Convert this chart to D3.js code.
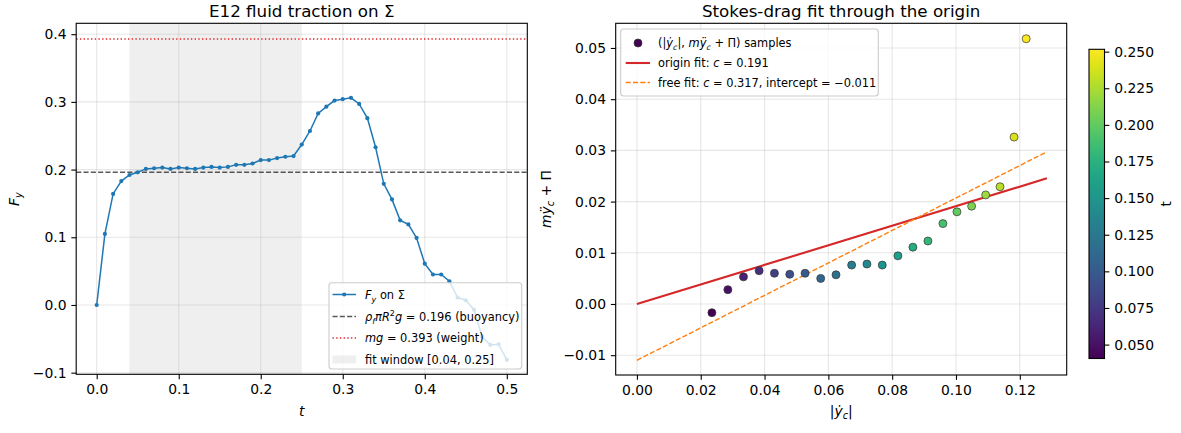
<!DOCTYPE html>
<html lang="en">
<head>
<meta charset="UTF-8">
<title>E12 fluid traction</title>
<script src="https://d3js.org/d3.v7.min.js"></script>
<style>
  body { margin: 0; background: #fff; }
  svg text { font-family: "DejaVu Sans", sans-serif; fill: #000; }
  .tick line { stroke: #000; stroke-width: 1.1; }
  .tick text { font-size: 13.9px; }
</style>
</head>
<body>
<svg id="main" width="1181" height="433"></svg>
<script>
// ---- left panel data: F_y on Sigma over time
const tSteps = [0.00, 0.01, 0.02, 0.03, 0.04, 0.05, 0.06, 0.07, 0.08, 0.09,
  0.10, 0.11, 0.12, 0.13, 0.14, 0.15, 0.16, 0.17, 0.18, 0.19,
  0.20, 0.21, 0.22, 0.23, 0.24, 0.25, 0.26, 0.27, 0.28, 0.29,
  0.30, 0.31, 0.32, 0.33, 0.34, 0.35, 0.36, 0.37, 0.38, 0.39,
  0.40, 0.41, 0.42, 0.43, 0.44, 0.45, 0.46, 0.47, 0.48, 0.49, 0.50];
const fyValues = [0.000, 0.105, 0.164, 0.183, 0.192, 0.196, 0.201, 0.202, 0.203, 0.201,
  0.203, 0.202, 0.201, 0.203, 0.204, 0.203, 0.204, 0.207, 0.207, 0.209,
  0.214, 0.214, 0.217, 0.219, 0.220, 0.237, 0.257, 0.283, 0.293, 0.302,
  0.304, 0.306, 0.297, 0.276, 0.233, 0.179, 0.156, 0.125, 0.119, 0.099,
  0.061, 0.045, 0.045, 0.035, 0.011, 0.007, -0.007, -0.047, -0.059, -0.058, -0.081];
const buoyancy = 0.196;
const weight = 0.393;
const fitWindow = [0.04, 0.25];

// ---- right panel data: samples inside the fit window
const sampleT = [0.04, 0.05, 0.06, 0.07, 0.08, 0.09, 0.10, 0.11, 0.12, 0.13, 0.14,
  0.15, 0.16, 0.17, 0.18, 0.19, 0.20, 0.21, 0.22, 0.23, 0.24, 0.25];
const speedAbs = [0.0235, 0.0285, 0.0334, 0.0383, 0.0431, 0.0479, 0.0527, 0.0576, 0.0624, 0.0673, 0.0721,
  0.0769, 0.0818, 0.0865, 0.0912, 0.0959, 0.1003, 0.1049, 0.1093, 0.1138, 0.1182, 0.1220];
const dragForce = [-0.0017, 0.0028, 0.0053, 0.0065, 0.0060, 0.0058, 0.0060, 0.0050, 0.0057, 0.0076, 0.0078,
  0.0076, 0.0094, 0.0111, 0.0123, 0.0157, 0.0180, 0.0191, 0.0213, 0.0229, 0.0326, 0.0518];
const cOrigin = 0.191;
const cFree = 0.317;
const interceptFree = -0.011;
const fitSpan = [0, 0.1285];

// ---- tick labels
const leftXTicks = [0.0, 0.1, 0.2, 0.3, 0.4, 0.5];
const leftYTicks = [-0.1, 0.0, 0.1, 0.2, 0.3, 0.4];
const rightXTicks = [0.00, 0.02, 0.04, 0.06, 0.08, 0.10, 0.12];
const rightYTicks = [-0.01, 0.00, 0.01, 0.02, 0.03, 0.04, 0.05];
const cbarTicks = [0.050, 0.075, 0.100, 0.125, 0.150, 0.175, 0.200, 0.225, 0.250];

const svg = d3.select('svg#main');
svg.append('rect').attr('width', 1181).attr('height', 433).attr('fill', '#fff');

const minus = s => s.replace('-', '\u2212');
const TICK = 4.86;

// rich text helper: parts = [{t, i, sub, sup}]
function rich(sel, parts, size) {
  let shift = 0;
  parts.forEach(p => {
    let target = p.sub ? size * 0.25 : (p.sup ? -size * 0.38 : 0);
    let ts = sel.append('tspan').text(p.t);
    if (p.i) ts.attr('font-style', 'italic');
    if (p.sub || p.sup) ts.attr('font-size', size * 0.7);
    if (target !== shift) { ts.attr('dy', target - shift); shift = target; }
  });
  return sel;
}

function panel(box, xDom, yDom, xTicks, yTicks, xFmt, yFmt) {
  const x = d3.scaleLinear().domain(xDom).range([box.x0, box.x1]);
  const y = d3.scaleLinear().domain(yDom).range([box.y1, box.y0]);
  const g = svg.append('g');
  const grid = g.append('g');
  const layer = g.append('g');
  // grid
  grid.selectAll('.gx').data(xTicks).enter().append('line')
    .attr('x1', d => x(d)).attr('x2', d => x(d)).attr('y1', box.y0).attr('y2', box.y1)
    .attr('stroke', '#b0b0b0').attr('stroke-opacity', 0.3).attr('stroke-width', 1.1);
  grid.selectAll('.gy').data(yTicks).enter().append('line')
    .attr('y1', d => y(d)).attr('y2', d => y(d)).attr('x1', box.x0).attr('x2', box.x1)
    .attr('stroke', '#b0b0b0').attr('stroke-opacity', 0.3).attr('stroke-width', 1.1);
  return {x, y, g, grid, layer, box, xTicks, yTicks, xFmt, yFmt};
}

function finishAxes(p) {
  const b = p.box;
  const ax = p.g.append('g').attr('transform', `translate(0,${b.y1})`)
    .call(d3.axisBottom(p.x).tickValues(p.xTicks).tickSize(TICK).tickPadding(TICK)
      .tickFormat(d => minus(d3.format(p.xFmt)(d))));
  ax.select('.domain').remove();
  ax.selectAll('text').attr('font-size', 13.9).attr('font-family', 'DejaVu Sans');
  const ay = p.g.append('g').attr('transform', `translate(${b.x0},0)`)
    .call(d3.axisLeft(p.y).tickValues(p.yTicks).tickSize(TICK).tickPadding(TICK)
      .tickFormat(d => minus(d3.format(p.yFmt)(d))));
  ay.select('.domain').remove();
  ay.selectAll('text').attr('font-size', 13.9).attr('font-family', 'DejaVu Sans');
  p.g.append('rect').attr('x', b.x0).attr('y', b.y0)
    .attr('width', b.x1 - b.x0).attr('height', b.y1 - b.y0)
    .attr('fill', 'none').attr('stroke', '#000').attr('stroke-width', 1.1);
}

function legendBox(g, x, y, w, h) {
  g.append('rect').attr('x', x).attr('y', y).attr('width', w).attr('height', h)
    .attr('rx', 3).attr('fill', '#fff').attr('fill-opacity', 0.8)
    .attr('stroke', '#cccccc').attr('stroke-width', 1.1);
}

// ================= LEFT PANEL =================
const L = panel({x0: 76.2, x1: 527.3, y0: 23.3, y1: 374.3}, [-0.025, 0.525], [-0.1024, 0.4161],
  leftXTicks, leftYTicks, '.1f', '.1f');

// fit window shading (below grid)
L.g.insert('rect', ':first-child')
  .attr('x', L.x(fitWindow[0])).attr('width', L.x(fitWindow[1]) - L.x(fitWindow[0]))
  .attr('y', L.box.y0).attr('height', L.box.y1 - L.box.y0)
  .attr('fill', '#808080').attr('fill-opacity', 0.13);

L.layer.append('line').attr('x1', L.box.x0).attr('x2', L.box.x1)
  .attr('y1', L.y(buoyancy)).attr('y2', L.y(buoyancy))
  .attr('stroke', '#000').attr('stroke-opacity', 0.65).attr('stroke-width', 1.4)
  .attr('stroke-dasharray', '5.1,2.2');
L.layer.append('line').attr('x1', L.box.x0).attr('x2', L.box.x1)
  .attr('y1', L.y(weight)).attr('y2', L.y(weight))
  .attr('stroke', '#e8282b').attr('stroke-width', 1.4)
  .attr('stroke-dasharray', '1.4,2.3');

const fyData = tSteps.map((t, i) => ({t, v: fyValues[i]}));
L.layer.append('path').datum(fyData)
  .attr('d', d3.line().x(d => L.x(d.t)).y(d => L.y(d.v)))
  .attr('fill', 'none').attr('stroke', '#1f77b4').attr('stroke-width', 1.5);
L.layer.selectAll('circle').data(fyData).enter().append('circle')
  .attr('cx', d => L.x(d.t)).attr('cy', d => L.y(d.v)).attr('r', 2.1)
  .attr('fill', '#1f77b4');

finishAxes(L);

// left legend
{
  const lg = svg.append('g');
  legendBox(lg, 329, 282.7, 192.7, 86.3);
  const fs = 11.4, tx = 365, rows = [294.5, 316.5, 338, 359.5];
  lg.append('line').attr('x1', 332.5).attr('x2', 356).attr('y1', rows[0]).attr('y2', rows[0])
    .attr('stroke', '#1f77b4').attr('stroke-width', 1.5);
  lg.append('circle').attr('cx', 344.2).attr('cy', rows[0]).attr('r', 2.1).attr('fill', '#1f77b4');
  lg.append('line').attr('x1', 332.5).attr('x2', 356).attr('y1', rows[1]).attr('y2', rows[1])
    .attr('stroke', '#000').attr('stroke-opacity', 0.65).attr('stroke-width', 1.4)
    .attr('stroke-dasharray', '5.1,2.2');
  lg.append('line').attr('x1', 332.5).attr('x2', 356).attr('y1', rows[2]).attr('y2', rows[2])
    .attr('stroke', '#e8282b').attr('stroke-width', 1.4).attr('stroke-dasharray', '1.4,2.3');
  lg.append('rect').attr('x', 332.5).attr('y', rows[3] - 4).attr('width', 23.5).attr('height', 8)
    .attr('fill', '#808080').attr('fill-opacity', 0.13);
  const labels = [
    [{t: 'F', i: 1}, {t: 'y', i: 1, sub: 1}, {t: ' on \u03a3'}],
    [{t: '\u03c1', i: 1}, {t: 'f', i: 1, sub: 1}, {t: '\u03c0R', i: 1}, {t: '2', sup: 1}, {t: 'g', i: 1}, {t: ' = 0.196 (buoyancy)'}],
    [{t: 'mg', i: 1}, {t: ' = 0.393 (weight)'}],
    [{t: 'fit window [0.04, 0.25]'}]
  ];
  labels.forEach((parts, i) => {
    rich(lg.append('text').attr('x', tx).attr('y', rows[i] + 4.2).attr('font-size', fs), parts, fs);
  });
}

svg.append('text').attr('x', (L.box.x0 + L.box.x1) / 2).attr('y', 17)
  .attr('text-anchor', 'middle').attr('font-size', 16.7).text('E12 fluid traction on \u03a3');
svg.append('text').attr('x', (L.box.x0 + L.box.x1) / 2).attr('y', 416)
  .attr('text-anchor', 'middle').attr('font-size', 13.9).attr('font-style', 'italic').text('t');
rich(svg.append('text').attr('transform', 'translate(18.5,199) rotate(-90)')
  .attr('text-anchor', 'middle').attr('font-size', 13.9), [{t: 'F', i: 1}, {t: 'y', i: 1, sub: 1}], 13.9);

// ================= RIGHT PANEL =================
const R = panel({x0: 615.7, x1: 1066.7, y0: 23.3, y1: 375}, [-0.00665, 0.1347], [-0.01387, 0.05482],
  rightXTicks, rightYTicks, '.2f', '.2f');

const tColor = d3.scaleSequential(d3.interpolateViridis).domain([0.0405, 0.2516]);

R.layer.append('line')
  .attr('x1', R.x(fitSpan[0])).attr('x2', R.x(fitSpan[1]))
  .attr('y1', R.y(cOrigin * fitSpan[0])).attr('y2', R.y(cOrigin * fitSpan[1]))
  .attr('stroke', '#d62728').attr('stroke-width', 2.1);
R.layer.append('line')
  .attr('x1', R.x(fitSpan[0])).attr('x2', R.x(fitSpan[1]))
  .attr('y1', R.y(cFree * fitSpan[0] + interceptFree)).attr('y2', R.y(cFree * fitSpan[1] + interceptFree))
  .attr('stroke', '#ff7f0e').attr('stroke-width', 1.4).attr('stroke-dasharray', '5.1,2.2');

const samples = sampleT.map((t, i) => ({t, x: speedAbs[i], y: dragForce[i]}));
R.layer.selectAll('circle').data(samples).enter().append('circle')
  .attr('cx', d => R.x(d.x)).attr('cy', d => R.y(d.y)).attr('r', 4)
  .attr('fill', d => tColor(d.t)).attr('stroke', '#333').attr('stroke-width', 0.7);

finishAxes(R);

// right legend
{
  const lg = svg.append('g');
  legendBox(lg, 620.7, 29, 257.6, 67);
  const fs = 11.4, tx = 658, rows = [43, 63, 82.5];
  lg.append('circle').attr('cx', 638).attr('cy', rows[0]).attr('r', 4)
    .attr('fill', tColor(0.0405)).attr('stroke', '#333').attr('stroke-width', 0.7);
  lg.append('line').attr('x1', 625.7).attr('x2', 650).attr('y1', rows[1]).attr('y2', rows[1])
    .attr('stroke', '#d62728').attr('stroke-width', 2.1);
  lg.append('line').attr('x1', 625.7).attr('x2', 650).attr('y1', rows[2]).attr('y2', rows[2])
    .attr('stroke', '#ff7f0e').attr('stroke-width', 1.4).attr('stroke-dasharray', '5.1,2.2');
  const labels = [
    [{t: '(|'}, {t: '\u1e8f', i: 1}, {t: 'c', i: 1, sub: 1}, {t: '|, '}, {t: 'm\u00ff', i: 1}, {t: 'c', i: 1, sub: 1}, {t: ' + \u03a0) samples'}],
    [{t: 'origin fit: '}, {t: 'c', i: 1}, {t: ' = 0.191'}],
    [{t: 'free fit: '}, {t: 'c', i: 1}, {t: ' = 0.317, intercept = \u22120.011'}]
  ];
  labels.forEach((parts, i) => {
    rich(lg.append('text').attr('x', tx).attr('y', rows[i] + 4.2).attr('font-size', fs), parts, fs);
  });
}

svg.append('text').attr('x', (R.box.x0 + R.box.x1) / 2).attr('y', 17)
  .attr('text-anchor', 'middle').attr('font-size', 16.7).text('Stokes-drag fit through the origin');
rich(svg.append('text').attr('x', (R.box.x0 + R.box.x1) / 2).attr('y', 416)
  .attr('text-anchor', 'middle').attr('font-size', 13.9),
  [{t: '|'}, {t: '\u1e8f', i: 1}, {t: 'c', i: 1, sub: 1}, {t: '|'}], 13.9);
rich(svg.append('text').attr('transform', 'translate(551,199) rotate(-90)')
  .attr('text-anchor', 'middle').attr('font-size', 13.9),
  [{t: 'm\u00ff', i: 1}, {t: 'c', i: 1, sub: 1}, {t: ' + \u03a0'}], 13.9);

// ================= COLORBAR =================
{
  const cb = {x0: 1089, x1: 1104.5, y0: 49.3, y1: 358.5};
  const cy = d3.scaleLinear().domain(tColor.domain()).range([cb.y1, cb.y0]);
  const defs = svg.append('defs');
  const grad = defs.append('linearGradient').attr('id', 'viridisGrad')
    .attr('x1', 0).attr('y1', 1).attr('x2', 0).attr('y2', 0);
  d3.range(0, 1.0001, 0.05).forEach(f => {
    grad.append('stop').attr('offset', f).attr('stop-color', d3.interpolateViridis(f));
  });
  svg.append('rect').attr('x', cb.x0).attr('y', cb.y0)
    .attr('width', cb.x1 - cb.x0).attr('height', cb.y1 - cb.y0)
    .attr('fill', 'url(#viridisGrad)').attr('stroke', '#000').attr('stroke-width', 1.1);
  const ac = svg.append('g').attr('transform', `translate(${cb.x1},0)`)
    .call(d3.axisRight(cy).tickValues(cbarTicks).tickSize(TICK).tickPadding(TICK)
      .tickFormat(d3.format('.3f')));
  ac.select('.domain').remove();
  ac.selectAll('text').attr('font-size', 13.9).attr('font-family', 'DejaVu Sans');
  svg.append('text').attr('transform', `translate(1171,${(cb.y0 + cb.y1) / 2}) rotate(-90)`)
    .attr('text-anchor', 'middle').attr('font-size', 13.9).text('t');
}
</script>
</body>
</html>
